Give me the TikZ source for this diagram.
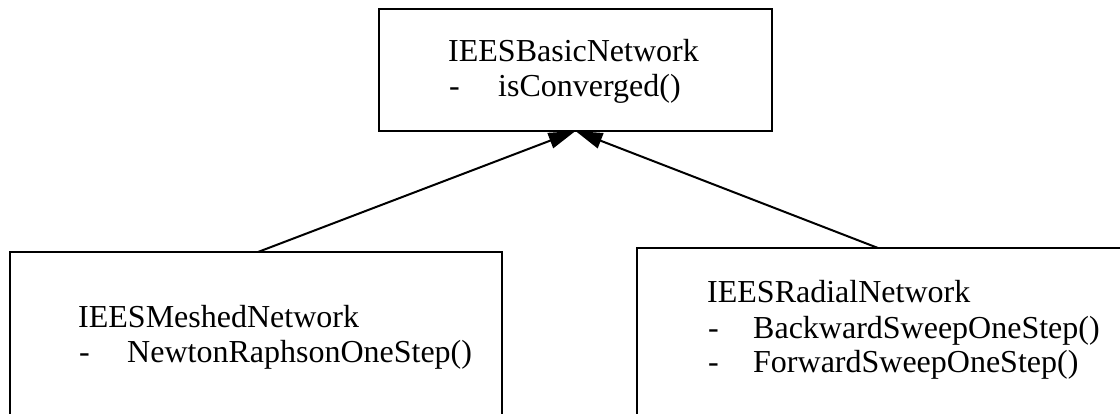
\documentclass[tikz,border=0pt]{standalone}
\usepackage{fontspec}
\setmainfont{Liberation Serif}
\usetikzlibrary{arrows.meta}
\begin{document}
\begin{tikzpicture}[x=1pt,y=-1pt,
  box/.style={draw,line width=2.4pt,inner sep=0pt,outer sep=0pt},
  txt/.style={anchor=base west,inner sep=0pt,font=\fontsize{32}{35}\selectfont},
  inh/.style={line width=2pt,-{Triangle[length=27pt,width=16pt]}}]
\clip (0,0) rectangle (1120,414);
\fill[white] (0,0) rectangle (1120,414);
% boxes
\node[box,minimum width=393pt,minimum height=122pt] (base) at (575.5,70) {};
\node[box,minimum width=492pt,minimum height=188pt] (mesh) at (256,346) {};
\node[box,minimum width=503pt,minimum height=192pt] (radial) at (888.5,344) {};
% texts
\node[txt] (bname) at (448,62) {IEESBasicNetwork};
\node[txt] (bd1) at (449,97) {-};
\node[txt] (bm1) at (498,97) {isConverged()};
\node[txt] (mname) at (78,327) {IEESMeshedNetwork};
\node[txt] (md1) at (79,362) {-};
\node[txt] (mm1) at (127,362) {NewtonRaphsonOneStep()};
\node[txt] (rname) at (707,303) {IEESRadialNetwork};
\node[txt] (rd1) at (708,338) {-};
\node[txt] (rm1) at (753,338) {BackwardSweepOneStep()};
\node[txt] (rd2) at (708,372) {-};
\node[txt] (rm2) at (753,372) {ForwardSweepOneStep()};
% connectors
\coordinate (ms) at ([xshift=248pt]mesh.north west);
\coordinate (rs) at ([xshift=241pt]radial.north west);
\draw[inh] (ms) -- (base.south);
\draw[inh] (rs) -- (base.south);
\end{tikzpicture}
\end{document}
